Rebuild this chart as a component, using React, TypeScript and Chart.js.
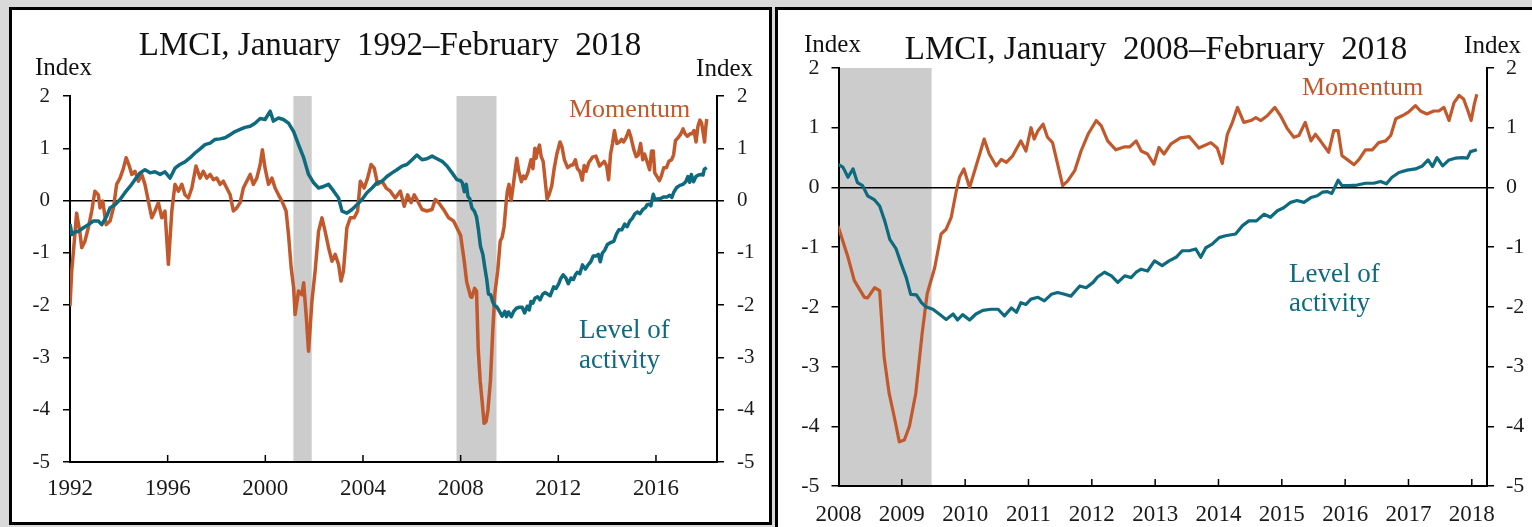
import React, { useEffect, useRef } from "react";
import { Chart, registerables } from "chart.js";
Chart.register(...registerables);

// ---------------- DATA ----------------
const levelDates = [
  1992.00, 1992.08, 1992.20, 1992.34, 1992.55, 1992.75, 1992.96, 1993.16, 1993.30, 1993.50,
  1993.64, 1993.84, 1994.05, 1994.25, 1994.46, 1994.66, 1994.87, 1995.07, 1995.28, 1995.48,
  1995.69, 1995.89, 1996.10, 1996.30, 1996.50, 1996.71, 1996.92, 1997.12, 1997.33, 1997.53,
  1997.74, 1997.94, 1998.15, 1998.35, 1998.56, 1998.76, 1998.97, 1999.17, 1999.38, 1999.58,
  1999.79, 1999.99, 2000.20, 2000.33, 2000.54, 2000.74, 2000.95, 2001.16, 2001.36, 2001.57,
  2001.77, 2001.98, 2002.18, 2002.39, 2002.59, 2002.80, 2003.00, 2003.14, 2003.34, 2003.55,
  2003.75, 2003.96, 2004.16, 2004.37, 2004.57, 2004.78, 2004.98, 2005.19, 2005.39, 2005.60,
  2005.80, 2006.01, 2006.21, 2006.42, 2006.62, 2006.83, 2007.03, 2007.24, 2007.44, 2007.65,
  2007.85,
  2008.00, 2008.07, 2008.15, 2008.23, 2008.30, 2008.38, 2008.46, 2008.57, 2008.65, 2008.73,
  2008.81, 2008.91, 2008.99, 2009.07, 2009.14, 2009.23, 2009.31, 2009.38, 2009.49, 2009.59,
  2009.70, 2009.81, 2009.88, 2009.96, 2010.07, 2010.17, 2010.28, 2010.41, 2010.52, 2010.62,
  2010.73, 2010.81, 2010.88, 2010.96, 2011.04, 2011.15, 2011.25, 2011.36, 2011.46, 2011.57,
  2011.67, 2011.81, 2011.91, 2012.02, 2012.09, 2012.20, 2012.31, 2012.41, 2012.52, 2012.62,
  2012.70, 2012.78, 2012.88, 2012.99, 2013.11, 2013.22, 2013.33, 2013.43, 2013.54, 2013.64,
  2013.72, 2013.80, 2013.90, 2014.01, 2014.11, 2014.27, 2014.38, 2014.48, 2014.60, 2014.72,
  2014.82, 2014.93, 2015.03, 2015.14, 2015.24, 2015.35, 2015.46, 2015.56, 2015.64, 2015.72,
  2015.79, 2015.89, 2015.95, 2016.06, 2016.19, 2016.32, 2016.45, 2016.56, 2016.65, 2016.74,
  2016.85, 2016.98, 2017.11, 2017.22, 2017.31, 2017.38, 2017.45, 2017.54, 2017.64, 2017.74,
  2017.85, 2017.93, 2017.98, 2018.08,
];
const levelValues = [
  -0.45, -0.65, -0.60, -0.59, -0.52, -0.46, -0.39, -0.39, -0.46, -0.30,
  -0.14, -0.08, 0.02, 0.15, 0.27, 0.40, 0.53, 0.59, 0.53, 0.55,
  0.50, 0.55, 0.43, 0.62, 0.69, 0.74, 0.82, 0.91, 0.99, 1.07,
  1.10, 1.17, 1.18, 1.20, 1.26, 1.32, 1.36, 1.40, 1.42, 1.48,
  1.57, 1.55, 1.71, 1.52, 1.58, 1.55, 1.48, 1.32, 1.07, 0.82,
  0.50, 0.34, 0.24, 0.27, 0.31, 0.18, 0.05, -0.20, -0.24, -0.17,
  -0.08, 0.02, 0.15, 0.24, 0.34, 0.37, 0.46, 0.53, 0.59, 0.66,
  0.69, 0.78, 0.87, 0.78, 0.80, 0.85, 0.80, 0.75, 0.66, 0.53,
  0.40,
  0.38, 0.34, 0.17, 0.31, 0.08, 0.03, -0.14, -0.21, -0.31, -0.56,
  -0.87, -1.03, -1.28, -1.51, -1.79, -1.80, -1.93, -2.00, -2.04, -2.12,
  -2.21, -2.12, -2.22, -2.13, -2.22, -2.12, -2.06, -2.04, -2.04, -2.15,
  -2.02, -2.09, -1.93, -1.96, -1.87, -1.84, -1.90, -1.79, -1.76, -1.79,
  -1.82, -1.65, -1.68, -1.59, -1.50, -1.42, -1.48, -1.59, -1.48, -1.51,
  -1.42, -1.37, -1.40, -1.23, -1.31, -1.23, -1.17, -1.06, -1.06, -1.03,
  -1.17, -1.01, -0.95, -0.84, -0.81, -0.78, -0.64, -0.56, -0.56, -0.45,
  -0.50, -0.39, -0.34, -0.25, -0.22, -0.25, -0.17, -0.14, -0.08, -0.07,
  -0.10, 0.12, 0.03, 0.03, 0.04, 0.07, 0.07, 0.10, 0.06, 0.17,
  0.25, 0.29, 0.31, 0.36, 0.46, 0.35, 0.50, 0.36, 0.46, 0.49,
  0.50, 0.49, 0.60, 0.63,
];

const momentumDates = [
  1992.00, 1992.07, 1992.20, 1992.27, 1992.40, 1992.48, 1992.61, 1992.75, 1992.89, 1993.02,
  1993.16, 1993.23, 1993.34, 1993.48, 1993.64, 1993.78, 1993.91, 1994.05, 1994.19, 1994.30,
  1994.43, 1994.53, 1994.66, 1994.80, 1994.94, 1995.07, 1995.21, 1995.35, 1995.48, 1995.62,
  1995.76, 1995.89, 1996.03, 1996.17, 1996.30, 1996.44, 1996.58, 1996.71, 1996.85, 1996.99,
  1997.16, 1997.33, 1997.46, 1997.60, 1997.74, 1997.87, 1998.01, 1998.15, 1998.28, 1998.42,
  1998.56, 1998.69, 1998.83, 1998.97, 1999.10, 1999.24, 1999.38, 1999.51, 1999.65, 1999.79,
  1999.88, 1999.99, 2000.13, 2000.27, 2000.40, 2000.54, 2000.68, 2000.85, 2000.95, 2001.06,
  2001.16, 2001.22, 2001.36, 2001.50, 2001.57, 2001.68, 2001.77, 2001.91, 2002.04, 2002.18,
  2002.32, 2002.45, 2002.59, 2002.73, 2002.86, 2003.00, 2003.10, 2003.20, 2003.34, 2003.48,
  2003.64, 2003.78, 2003.89, 2004.05, 2004.19, 2004.33, 2004.46, 2004.60, 2004.78, 2004.95,
  2005.12, 2005.32, 2005.53, 2005.69, 2005.83, 2005.97, 2006.10, 2006.24, 2006.42, 2006.62,
  2006.83, 2006.96, 2007.10, 2007.30, 2007.51, 2007.71, 2007.92,
  2008.00, 2008.15, 2008.25, 2008.41, 2008.46, 2008.57, 2008.65, 2008.72, 2008.80, 2008.88,
  2008.96, 2009.04, 2009.12, 2009.22, 2009.32, 2009.40, 2009.52, 2009.62, 2009.70, 2009.78,
  2009.86, 2009.91, 2009.98, 2010.07, 2010.15, 2010.23, 2010.30, 2010.38, 2010.49, 2010.57,
  2010.65, 2010.75, 2010.88, 2010.96, 2011.04, 2011.09, 2011.15, 2011.23, 2011.30, 2011.38,
  2011.46, 2011.54, 2011.62, 2011.73, 2011.83, 2011.94, 2012.07, 2012.15, 2012.25, 2012.38,
  2012.52, 2012.60, 2012.70, 2012.78, 2012.88, 2012.98, 2013.06, 2013.14, 2013.25, 2013.40,
  2013.54, 2013.69, 2013.88, 2013.98, 2014.06, 2014.14, 2014.22, 2014.30, 2014.40, 2014.51,
  2014.59, 2014.67, 2014.77, 2014.89, 2014.98, 2015.09, 2015.19, 2015.27, 2015.37, 2015.46,
  2015.53, 2015.61, 2015.74, 2015.82, 2015.89, 2015.95, 2016.03, 2016.14, 2016.22, 2016.32,
  2016.43, 2016.53, 2016.64, 2016.72, 2016.80, 2016.90, 2017.00, 2017.11, 2017.19, 2017.29,
  2017.40, 2017.48, 2017.56, 2017.64, 2017.72, 2017.80, 2017.87, 2017.94, 2017.99, 2018.04,
  2018.08,
];
const momentumValues = [
  -2.02, -1.35, -0.65, -0.24, -0.59, -0.90, -0.78, -0.52, -0.20, 0.18,
  0.11, -0.14, -0.01, -0.46, -0.39, -0.14, 0.31, 0.43, 0.62, 0.82,
  0.66, 0.50, 0.56, 0.37, 0.50, 0.31, -0.01, -0.33, -0.20, -0.04,
  -0.33, -0.20, -1.22, -0.20, 0.31, 0.18, 0.31, 0.11, 0.05, 0.24,
  0.66, 0.43, 0.56, 0.43, 0.50, 0.40, 0.43, 0.31, 0.37, 0.24,
  0.11, -0.20, -0.14, -0.04, 0.24, 0.37, 0.50, 0.31, 0.43, 0.69,
  0.97, 0.62, 0.31, 0.43, 0.24, 0.11, -0.01, -0.20, -0.65, -1.29,
  -1.67, -2.18, -1.73, -1.80, -1.57, -2.24, -2.88, -1.92, -1.35, -0.59,
  -0.33, -0.59, -0.90, -1.16, -1.03, -1.22, -1.54, -1.35, -0.52, -0.33,
  -0.33, -0.20, 0.37, 0.24, 0.43, 0.69, 0.62, 0.31, 0.37, 0.24,
  0.18, 0.05, 0.18, -0.11, 0.11, -0.04, 0.11, -0.01, -0.17, -0.20,
  -0.17, 0.02, -0.04, -0.17, -0.33, -0.39, -0.59,
  -0.67, -1.17, -1.56, -1.84, -1.85, -1.68, -1.73, -2.84, -3.45, -3.84,
  -4.26, -4.23, -4.00, -3.45, -2.45, -1.78, -1.34, -0.78, -0.70, -0.50,
  -0.06, 0.17, 0.31, 0.00, 0.28, 0.56, 0.81, 0.56, 0.36, 0.47,
  0.42, 0.53, 0.78, 0.61, 1.00, 0.81, 0.95, 1.06, 0.84, 0.75,
  0.39, 0.03, 0.11, 0.28, 0.61, 0.89, 1.12, 1.03, 0.78, 0.63,
  0.68, 0.68, 0.78, 0.61, 0.56, 0.39, 0.67, 0.56, 0.73, 0.83,
  0.85, 0.66, 0.75, 0.66, 0.40, 0.89, 1.09, 1.34, 1.09, 1.12,
  1.17, 1.12, 1.20, 1.34, 1.20, 0.98, 0.84, 0.87, 1.09, 0.78,
  0.89, 0.78, 0.59, 0.95, 0.95, 0.53, 0.47, 0.38, 0.47, 0.63,
  0.63, 0.75, 0.78, 0.87, 1.15, 1.20, 1.26, 1.37, 1.28, 1.23,
  1.28, 1.28, 1.34, 1.12, 1.42, 1.54, 1.48, 1.28, 1.12, 1.40,
  1.56,
];

const recessionStarts = [2001.15, 2007.83];
const recessionEnds = [2001.9, 2009.47];

const yTickValues = [-5, -4, -3, -2, -1, 0, 1, 2];
const leftYearTicks = [1992, 1996, 2000, 2004, 2008, 2012, 2016];
const rightYearTicks = [2008, 2009, 2010, 2011, 2012, 2013, 2014, 2015, 2016, 2017, 2018];

// ---------------- STYLE ----------------
const ORANGE = "#c1592c";
const TEAL = "#0e6a7e";
const FONT = "'Liberation Serif', 'Times New Roman', serif";
const PAGE_W = 1532;
const PAGE_H = 527;

type Txt = { t: string; x: number; y: number; size: number; color: string; align: CanvasTextAlign };

type PanelCfg = {
  canvasLeft: number;
  canvasWidth: number;
  xMin: number;
  xMax: number;
  xTicks: number[];
  area: { l: number; r: number; t: number; b: number };
  lineWidth: number;
  xFont: number;
  yFont: number;
  xPad: number;
  yPad: number;
  texts: Txt[];
};

const leftPanel: PanelCfg = {
  canvasLeft: 0,
  canvasWidth: 772,
  xMin: 1992,
  xMax: 2018.5,
  xTicks: leftYearTicks,
  area: { l: 70, r: 717, t: 96, b: 462 },
  lineWidth: 3.5,
  xFont: 23,
  yFont: 21,
  xPad: 13,
  yPad: 13,
  texts: [
    { t: "LMCI, January  1992\u2013February  2018", x: 390, y: 55, size: 33, color: "#111", align: "center" },
    { t: "Index", x: 35, y: 75, size: 25, color: "#111", align: "left" },
    { t: "Index", x: 753, y: 76, size: 25, color: "#111", align: "right" },
    { t: "Momentum", x: 569, y: 117, size: 26, color: ORANGE, align: "left" },
    { t: "Level of", x: 579, y: 338, size: 27, color: TEAL, align: "left" },
    { t: "activity", x: 579, y: 368, size: 27, color: TEAL, align: "left" },
  ],
};

const rightPanel: PanelCfg = {
  canvasLeft: 774,
  canvasWidth: 758,
  xMin: 2008,
  xMax: 2018.24,
  xTicks: rightYearTicks,
  area: { l: 838.5, r: 1487, t: 68, b: 486 },
  lineWidth: 3.2,
  xFont: 23,
  yFont: 22,
  xPad: 15,
  yPad: 12,
  texts: [
    { t: "LMCI, January  2008\u2013February  2018", x: 1156, y: 59, size: 33, color: "#111", align: "center" },
    { t: "Index", x: 804, y: 52, size: 25, color: "#111", align: "left" },
    { t: "Index", x: 1521, y: 53, size: 25, color: "#111", align: "right" },
    { t: "Momentum", x: 1302, y: 95, size: 26, color: ORANGE, align: "left" },
    { t: "Level of", x: 1289, y: 282, size: 27, color: TEAL, align: "left" },
    { t: "activity", x: 1289, y: 311, size: 27, color: TEAL, align: "left" },
  ],
};

function toPoints(dates: number[], values: number[]) {
  return dates.map((d, i) => ({ x: d, y: values[i] }));
}

function Panel({ cfg }: { cfg: PanelCfg }) {
  const ref = useRef<HTMLCanvasElement | null>(null);
  useEffect(() => {
    const canvas = ref.current;
    if (!canvas) return;
    const W = cfg.canvasWidth;
    const H = PAGE_H;
    const L = cfg.area.l - cfg.canvasLeft;
    const R = cfg.area.r - cfg.canvasLeft;
    const T = cfg.area.t;
    const B = cfg.area.b;

    const overlay = {
      id: "overlay",
      beforeDraw(chart: any) {
        const { ctx, chartArea } = chart;
        const xs = chart.scales.x;
        const ys = chart.scales.y;
        ctx.save();
        ctx.beginPath();
        ctx.rect(chartArea.left, chartArea.top, chartArea.right - chartArea.left, chartArea.bottom - chartArea.top);
        ctx.clip();
        ctx.fillStyle = "#cccccc";
        const top = ys.getPixelForValue(2);
        const bot = ys.getPixelForValue(-5);
        for (let i = 0; i < recessionStarts.length; i++) {
          const a = xs.getPixelForValue(recessionStarts[i]);
          const b = xs.getPixelForValue(recessionEnds[i]);
          ctx.fillRect(a, top, b - a, bot - top);
        }
        ctx.restore();
      },
      afterDraw(chart: any) {
        const { ctx, chartArea } = chart;
        const xs = chart.scales.x;
        ctx.save();
        ctx.strokeStyle = "#000";
        ctx.lineWidth = 1.5;
        for (const v of cfg.xTicks) {
          const px = xs.getPixelForValue(v);
          if (Math.abs(px - chartArea.left) < 2) continue;
          ctx.beginPath();
          ctx.moveTo(px, chartArea.bottom);
          ctx.lineTo(px, chartArea.bottom - 7);
          ctx.stroke();
        }
        for (const t of cfg.texts) {
          ctx.font = `${t.size}px ${FONT}`;
          ctx.fillStyle = t.color;
          ctx.textAlign = t.align;
          ctx.textBaseline = "alphabetic";
          ctx.fillText(t.t, t.x - cfg.canvasLeft, t.y);
        }
        ctx.restore();
      },
    };

    const yCommon = (pos: "left" | "right") => ({
      type: "linear" as const,
      position: pos,
      min: -5,
      max: 2,
      display: true,
      afterBuildTicks: (s: any) => {
        s.ticks = yTickValues.map((v) => ({ value: v }));
      },
      afterFit: (s: any) => {
        s.width = pos === "left" ? L : W - R;
      },
      grid: {
        display: true,
        drawOnChartArea: pos === "left",
        color: (c: any) => (c.tick && c.tick.value === 0 ? "#000" : "rgba(0,0,0,0)"),
        lineWidth: 1.5,
        drawTicks: true,
        tickLength: 7,
        tickColor: "#000",
        tickWidth: 1.5,
      },
      border: { display: true, color: "#000", width: 2 },
      ticks: {
        padding: cfg.yPad,
        color: "#1a1a1a",
        font: { family: FONT, size: cfg.yFont },
        callback: (v: any) => String(v),
      },
    });

    const chart = new Chart(canvas, {
      type: "line",
      data: {
        datasets: [
          {
            label: "Level of activity",
            data: toPoints(levelDates, levelValues),
            borderColor: TEAL,
            borderWidth: cfg.lineWidth,
            pointRadius: 0,
            tension: 0,
            borderJoinStyle: "round",
            fill: false,
          },
          {
            label: "Momentum",
            data: toPoints(momentumDates, momentumValues),
            borderColor: ORANGE,
            borderWidth: cfg.lineWidth,
            pointRadius: 0,
            tension: 0,
            borderJoinStyle: "round",
            fill: false,
          },
        ],
      },
      options: {
        responsive: false,
        maintainAspectRatio: false,
        devicePixelRatio: 1,
        animation: false,
        events: [],
        layout: { padding: { top: T, left: 0, right: 0, bottom: 0 } },
        plugins: { legend: { display: false }, tooltip: { enabled: false }, title: { display: false } },
        scales: {
          x: {
            type: "linear",
            min: cfg.xMin,
            max: cfg.xMax,
            afterBuildTicks: (s: any) => {
              s.ticks = cfg.xTicks.map((v) => ({ value: v }));
            },
            afterFit: (s: any) => {
              s.height = H - B;
            },
            grid: { display: true, drawOnChartArea: false, drawTicks: false },
            border: { display: true, color: "#000", width: 2 },
            ticks: {
              autoSkip: false,
              maxRotation: 0,
              padding: cfg.xPad,
              color: "#1a1a1a",
              font: { family: FONT, size: cfg.xFont },
              callback: (v: any) => String(v),
            },
          },
          y: yCommon("left"),
          y2: yCommon("right"),
        },
      } as any,
      plugins: [overlay],
    });
    return () => chart.destroy();
  }, [cfg]);

  return (
    <canvas
      ref={ref}
      width={cfg.canvasWidth}
      height={PAGE_H}
      style={{
        position: "absolute",
        left: cfg.canvasLeft,
        top: 0,
        width: cfg.canvasWidth,
        height: PAGE_H,
      }}
    />
  );
}

export default function App() {
  return (
    <div
      style={{
        position: "fixed",
        left: 0,
        top: 0,
        width: PAGE_W,
        height: PAGE_H,
        overflow: "hidden",
        background: "#d9d9d9",
      }}
    >
      <div
        style={{
          position: "absolute",
          left: 9,
          top: 7,
          width: 763,
          height: 518,
          boxSizing: "border-box",
          border: "3px solid #000",
          background: "#fff",
        }}
      />
      <div
        style={{
          position: "absolute",
          left: 775,
          top: 7,
          width: 770,
          height: 540,
          boxSizing: "border-box",
          borderLeft: "3px solid #000",
          borderTop: "3px solid #000",
          background: "#fff",
        }}
      />
      <Panel cfg={leftPanel} />
      <Panel cfg={rightPanel} />
    </div>
  );
}
